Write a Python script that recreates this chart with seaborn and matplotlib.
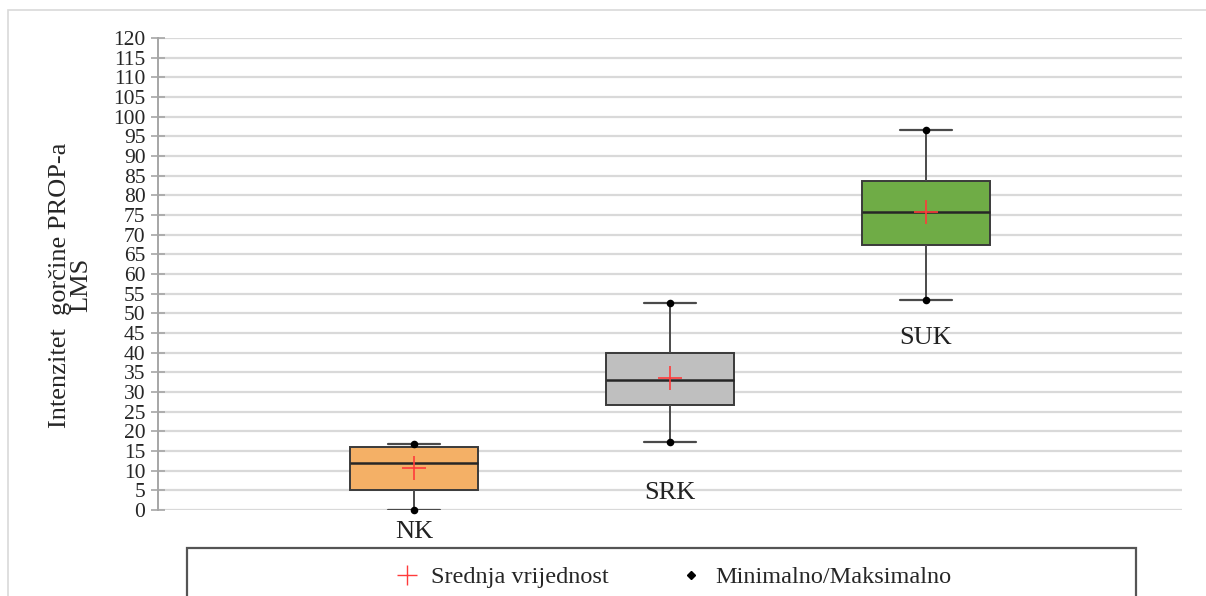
import numpy as np
import pandas as pd
import matplotlib
matplotlib.use("Agg")
import matplotlib.pyplot as plt
from matplotlib.patches import Rectangle
from matplotlib.lines import Line2D
import seaborn as sns

# five-number summaries (min, q1, median, q3, max)
groups = ["NK", "SRK", "SUK"]
nk_vals = [0.0, 5.1, 12.0, 16.0, 16.8]
srk_vals = [17.3, 26.7, 33.0, 39.9, 52.6]
suk_vals = [53.4, 67.4, 75.8, 83.6, 96.6]
means = [10.7, 33.6, 75.8]
colors = ["#F4B066", "#BFBFBF", "#6FAC46"]
label_y = [-5.6, 4.3, 43.7]

sns.set_style("white")
plt.rcParams["font.family"] = ["Liberation Serif", "DejaVu Serif"]

rows = []
for g, vals in zip(groups, [nk_vals, srk_vals, suk_vals]):
    for v in vals:
        rows.append({"grupa": g, "vrijednost": v})
df = pd.DataFrame(rows)

fig = plt.figure(figsize=(12.06, 5.96), dpi=100)
ax = fig.add_axes([158 / 1206, 1 - 510 / 596, 1024 / 1206, 472 / 596])

sns.boxplot(data=df, x="grupa", y="vrijednost", hue="grupa", palette=colors,
            saturation=1, whis=(0, 100), width=0.5, linewidth=1.4,
            linecolor="#3a3a3a", showfliers=False, legend=False, ax=ax,
            medianprops={"color": "#262626", "linewidth": 1.8},
            whiskerprops={"color": "#4a4a4a", "linewidth": 1.4},
            capprops={"color": "#4a4a4a", "linewidth": 1.6})

# narrower whisker caps
for ln in ax.lines:
    xd = np.asarray(ln.get_xdata(), dtype=float)
    yd = np.asarray(ln.get_ydata(), dtype=float)
    if len(xd) == 2 and yd[0] == yd[1] and abs(xd[1] - xd[0]) < 0.4:
        c = xd.mean()
        ln.set_xdata([c - 0.1, c + 0.1])

# min / max points
mm = pd.DataFrame({"grupa": groups * 2,
                   "v": [nk_vals[0], srk_vals[0], suk_vals[0],
                         nk_vals[-1], srk_vals[-1], suk_vals[-1]]})
sns.scatterplot(data=mm, x="grupa", y="v", color="black", marker="o", s=30,
                edgecolor="black", linewidth=0, zorder=5, ax=ax, clip_on=False)

# means
md = pd.DataFrame({"grupa": groups, "v": means})
sns.scatterplot(data=md, x="grupa", y="v", color="#FF3B3B", marker="+", s=300,
                linewidth=1.2, zorder=6, ax=ax)

for i, g in enumerate(groups):
    ax.text(i, label_y[i], g, ha="center", va="center", fontsize=19,
            color="#222222", clip_on=False)

ax.set_xlim(-1, 3)
ax.set_ylim(0, 120)
ax.set_yticks(np.arange(0, 121, 5))
ax.yaxis.grid(True, color="#d9d9d9", linewidth=1.6)
ax.set_axisbelow(True)
ax.set_xticks([])
ax.set_xlabel("")
ax.set_ylabel("Intenzitet  gorčine PROP-a\nLMS", fontsize=19, labelpad=16,
              linespacing=0.95)
ax.yaxis.set_label_coords(-0.064, 0.477)
ax.tick_params(axis="y", direction="inout", length=10, width=1.2,
               color="#a6a6a6", labelsize=15.5, pad=4, left=True)
for s in ["top", "right", "bottom"]:
    ax.spines[s].set_visible(False)
ax.spines["left"].set_color("#a6a6a6")
ax.spines["left"].set_linewidth(1.4)

# outer chart border
fig.patches.append(Rectangle((8 / 1206, -0.1), 1.2, 1 - 10 / 596 + 0.1,
                             transform=fig.transFigure, fill=False,
                             edgecolor="#d9d9d9", linewidth=1.2))
# legend frame
fig.patches.append(Rectangle((187 / 1206, -0.1), (1136 - 187) / 1206,
                             1 - 548 / 596 + 0.1, transform=fig.transFigure,
                             fill=False, edgecolor="#555555", linewidth=1.6))

handles = [Line2D([], [], color="#FF3B3B", marker="+", linestyle="none",
                  markersize=15, markeredgewidth=1.0),
           Line2D([], [], color="black", marker="D", linestyle="none",
                  markersize=4)]
fig.legend(handles, ["Srednja vrijednost", "Minimalno/Maksimalno"],
           loc="center", bbox_to_anchor=(672 / 1206, 1 - 577 / 596), ncol=2,
           frameon=False, fontsize=17.5, columnspacing=2.8, handletextpad=0.4,
           handlelength=1.2)

fig.savefig("out.png", dpi=100)
